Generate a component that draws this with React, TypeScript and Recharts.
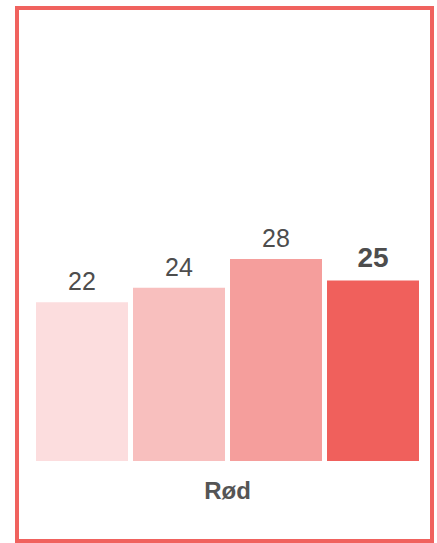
import { BarChart, Bar, XAxis, YAxis, LabelList } from "recharts";

const categories = ["Rød"];
const seriesKeys = ["v1", "v2", "v3", "v4"];
const seriesValues = [[22], [24], [28], [25]];
const colors = ["#FCDDDE", "#F8BFBE", "#F59E9C", "#F0605C"];

const data = categories.map((name, i) => {
  const row: Record<string, string | number> = { name };
  seriesKeys.forEach((k, s) => (row[k] = seriesValues[s][i]));
  return row;
});

const ValueLabel = (bold: boolean) => (props: any) => {
  const { x, y, width, value } = props;
  return (
    <text
      x={x + width / 2}
      y={y - (bold ? 14 : 12)}
      textAnchor="middle"
      fill="#4D4D4D"
      fontSize={bold ? 28 : 25}
      fontWeight={bold ? 700 : 400}
      fontFamily="Liberation Sans, Arial, sans-serif"
    >
      {value}
    </text>
  );
};

// tick y already sits 8px below the axis line (tickSize + tickMargin)
const CategoryTick = (props: any) => {
  const { x, y, payload } = props;
  return (
    <text
      x={x}
      y={y + 30}
      textAnchor="middle"
      fill="#555555"
      fontSize={24}
      fontWeight={700}
      fontFamily="Liberation Sans, Arial, sans-serif"
    >
      {payload.value}
    </text>
  );
};

export default function App() {
  return (
    <div style={{ position: "fixed", top: 0, left: 0, width: 437, height: 543, background: "#fff" }}>
      <div
        style={{
          position: "absolute",
          left: 15,
          top: 6,
          width: 419,
          height: 537,
          boxSizing: "border-box",
          border: "4px solid #F0625E",
        }}
      />
      <div style={{ position: "absolute", left: 0, top: 0 }}>
        <BarChart
          width={437}
          height={543}
          data={data}
          margin={{ top: 28, right: 18, bottom: 32, left: 36 }}
          barCategoryGap={0}
          barGap={5}
        >
          <XAxis dataKey="name" axisLine={false} tickLine={false} height={50} tick={<CategoryTick />} />
          <YAxis hide domain={[0, 60]} />
          {seriesKeys.map((k, s) => (
            <Bar key={k} dataKey={k} fill={colors[s]} isAnimationActive={false}>
              <LabelList dataKey={k} content={ValueLabel(s === 3)} />
            </Bar>
          ))}
        </BarChart>
      </div>
    </div>
  );
}
